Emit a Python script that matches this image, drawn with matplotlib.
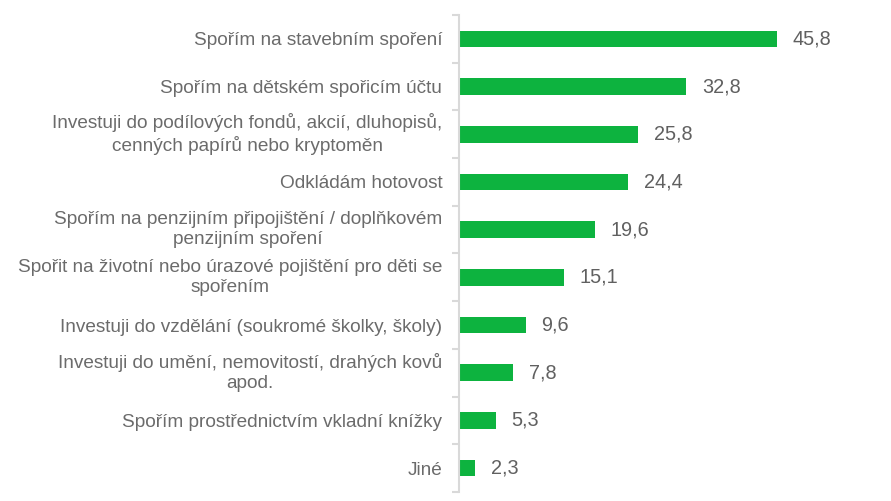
import matplotlib.pyplot as plt
import numpy as np

categories = [
    "Spořím na stavebním spoření",
    "Spořím na dětském spořicím účtu",
    "Investuji do podílových fondů, akcií, dluhopisů,\ncenných papírů nebo kryptoměn",
    "Odkládám hotovost",
    "Spořím na penzijním připojištění / doplňkovém\npenzijním spoření",
    "Spořit na životní nebo úrazové pojištění pro děti se\nspořením",
    "Investuji do vzdělání (soukromé školky, školy)",
    "Investuji do umění, nemovitostí, drahých kovů\napod.",
    "Spořím prostřednictvím vkladní knížky",
    "Jiné",
]
values = [45.8, 32.8, 25.8, 24.4, 19.6, 15.1, 9.6, 7.8, 5.3, 2.3]

plt.rcParams['font.family'] = ['Liberation Sans', 'DejaVu Sans']

fig = plt.figure(figsize=(8.91, 5.01), dpi=100)
ax = fig.add_axes([459 / 891, 1 - 492 / 501, 416 / 891, 477 / 501])

y = np.arange(len(categories))
ax.barh(y, values, height=0.35, color='#0DB33F')
ax.set_ylim(len(categories) - 0.5, -0.5)
ax.set_xlim(0, 60)

for yi, v in zip(y, values):
    ax.text(v + 2.3, yi, f"{v:.1f}".replace('.', ','), va='center', ha='left',
            fontsize=14.3, color='#606060')

ax.set_yticks(y)
labels = ax.set_yticklabels(categories, fontsize=13.7, color='#6b6b6b',
                            multialignment='center', linespacing=1.25)
# two-line labels: center the whole block on the bar
for lab in labels:
    if '\n' in lab.get_text():
        lab.set_verticalalignment('center')
ax.tick_params(axis='y', which='major', length=0, pad=12)
ax.set_yticks(np.arange(-0.5, len(categories), 1), minor=True)
ax.tick_params(axis='y', which='minor', length=5, width=1.5, color='#D9D9D9')

ax.set_xticks([])
for s in ['top', 'right', 'bottom']:
    ax.spines[s].set_visible(False)
ax.spines['left'].set_color('#D9D9D9')
ax.spines['left'].set_linewidth(1.5)

fig.savefig('out.png', dpi=100)
